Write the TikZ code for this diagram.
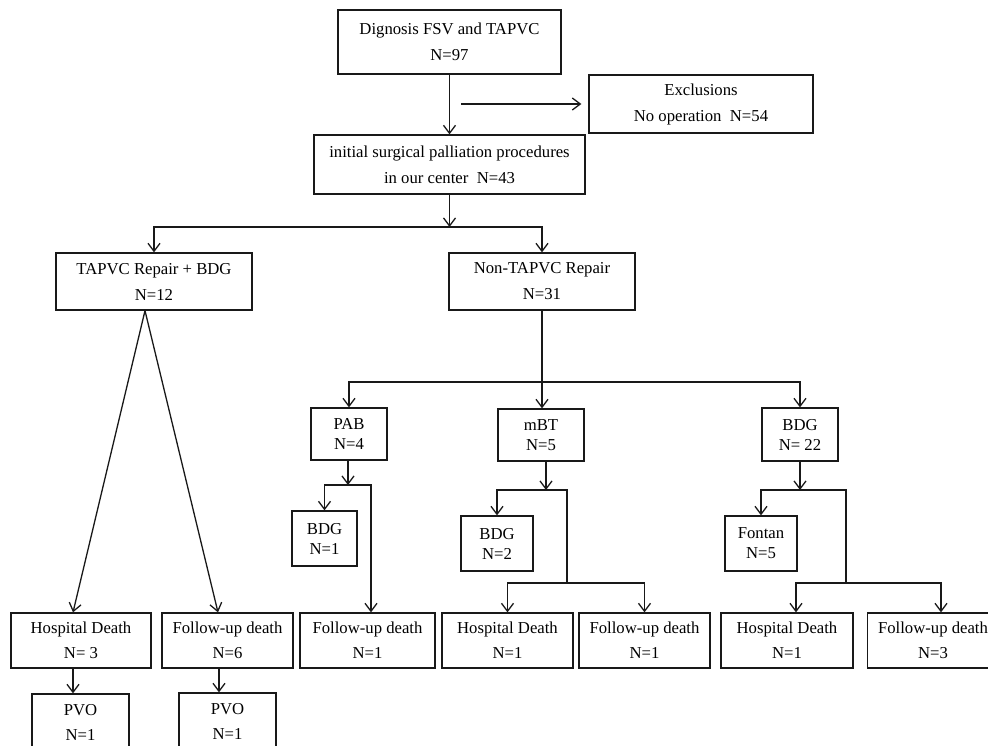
\documentclass[tikz,border=0pt]{standalone}
\usepackage{fontspec}
\setmainfont{Liberation Serif}
\usetikzlibrary{arrows.meta}
\tikzset{
    flowbox/.style={
        rectangle,
        draw=black!90, % 边框颜色
        line width=1.3pt,
        align=center,
        inner sep=0,
        font=\fontsize{16.7}{26}\selectfont
    },
    smallbox/.style={
        flowbox,
        font=\fontsize{16.7}{20}\selectfont % 小框行距更紧
    },
    endbox/.style={
        flowbox,
        minimum width=131pt,
        minimum height=55pt,
        font=\fontsize{16.7}{25}\selectfont
    },
    arr/.style={
        draw=black!90,
        line width=1.3pt,
        -{Straight Barb[length=8pt,width=12pt]}
    },
    line/.style={
        draw=black!90,
        line width=1.3pt
    }
}

\begin{document}
\begin{tikzpicture}[x=1pt,y=-1pt]
            \useasboundingbox (0,0) rectangle (988,745);
            \clip (0,0) rectangle (988,745);
            % 上部
            \node[flowbox, minimum width=223pt, minimum height=64pt] (diag) at (449.5,42) {Dignosis FSV and TAPVC\\N=97};
            \node[flowbox, minimum width=224pt, minimum height=58pt] (excl) at (701,104) {Exclusions\\No operation~ N=54};
            \node[flowbox, minimum width=271pt, minimum height=59pt] (init) at (449.5,164.5) {initial surgical palliation procedures\\in our center~ N=43};
            \node[flowbox, minimum width=196pt, minimum height=57pt] (tapvc) at (154,281.5) {TAPVC Repair + BDG\\N=12};
            \node[flowbox, minimum width=186pt, minimum height=57pt] (nontapvc) at (542,281.5) {Non-TAPVC Repair\\N=31};
            % 中部
            \node[smallbox, minimum width=76pt, minimum height=52pt] (pab) at (349,434) {PAB\\N=4};
            \node[smallbox, minimum width=86pt, minimum height=52pt] (mbt) at (541,435) {mBT\\N=5};
            \node[smallbox, minimum width=76pt, minimum height=53pt] (bdgc) at (800,434.5) {BDG\\N= 22};
            \node[smallbox, minimum width=65pt, minimum height=55pt] (bdga) at (324.5,538.5) {BDG\\N=1};
            \node[smallbox, minimum width=72pt, minimum height=55pt] (bdgb) at (497,543.5) {BDG\\N=2};
            \node[smallbox, minimum width=72pt, minimum height=55pt] (fontan) at (761,543.5) {Fontan\\N=5};
            % 底部
            \node[endbox, minimum width=140pt] (hd1) at (81,640.5) {Hospital Death\\N= 3};
            \node[endbox] (fu1) at (227.5,640.5) {Follow-up death\\N=6};
            \node[endbox, minimum width=135pt] (fu2) at (367.5,640.5) {Follow-up death\\N=1};
            \node[endbox] (hd2) at (507.5,640.5) {Hospital Death\\N=1};
            \node[endbox] (fu3) at (644.5,640.5) {Follow-up death\\N=1};
            \node[endbox, minimum width=132pt] (hd3) at (787,640.5) {Hospital Death\\N=1};
            \node[endbox] (fu4) at (933,640.5) {Follow-up death\\N=3};
            \node[smallbox, minimum width=97pt, minimum height=56pt, font=\fontsize{16.7}{25}\selectfont] (pvo1) at (80.5,722) {PVO\\N=1};
            \node[smallbox, minimum width=97pt, minimum height=56pt, font=\fontsize{16.7}{25}\selectfont] (pvo2) at (227.5,721) {PVO\\N=1};

            % 分叉点
            \coordinate (exa) at (461,104);
            \coordinate (s1) at (449.5,227);
            \coordinate (s2) at (542,382);
            \coordinate (s3) at (348,485);
            \coordinate (s4) at (546,490);
            \coordinate (s5) at (800,490);
            \coordinate (j4) at (567,583);
            \coordinate (j5) at (846,583);

            \draw[arr] (diag) -- (init);
            \draw[arr] (exa) -- ([xshift=-7pt]excl.west);
            \draw[arr] (init) -- (s1);
            \draw[arr] (s1) -| (tapvc);
            \draw[arr] (s1) -| (nontapvc);
            \draw[arr] ([xshift=-9pt]tapvc.south) -- ([xshift=-8pt]hd1.north);
            \draw[arr] ([xshift=-9pt]tapvc.south) -- ([xshift=-9.5pt]fu1.north);
            \draw[arr] ([xshift=-8pt]hd1.south) -- ([xshift=-7.5pt]pvo1.north);
            \draw[arr] ([xshift=-8.5pt]fu1.south) -- ([xshift=-8.5pt]pvo2.north);

            \draw[line] (nontapvc) -- (s2);
            \draw[arr] (s2) -| (pab);
            \draw[arr] (s2) -- (s2 |- mbt.north);
            \draw[arr] (s2) -| (bdgc);

            \draw[arr] (pab.south -| s3) -- (s3);
            \draw[arr] (s3) -| (bdga);
            \draw[arr] (s3) -| ([xshift=3.5pt]fu2.north);

            \draw[arr] (mbt.south -| s4) -- (s4);
            \draw[arr] (s4) -| (bdgb);
            \draw[line] (s4) -| (j4);
            \draw[arr] (j4) -| (hd2);
            \draw[arr] (j4) -| (fu3);

            \draw[arr] (bdgc) -- (s5);
            \draw[arr] (s5) -| (fontan);
            \draw[line] (s5) -| (j5);
            \draw[arr] (j5) -| ([xshift=9pt]hd3.north);
            \draw[arr] (j5) -| ([xshift=8pt]fu4.north);
\end{tikzpicture}
\end{document}
